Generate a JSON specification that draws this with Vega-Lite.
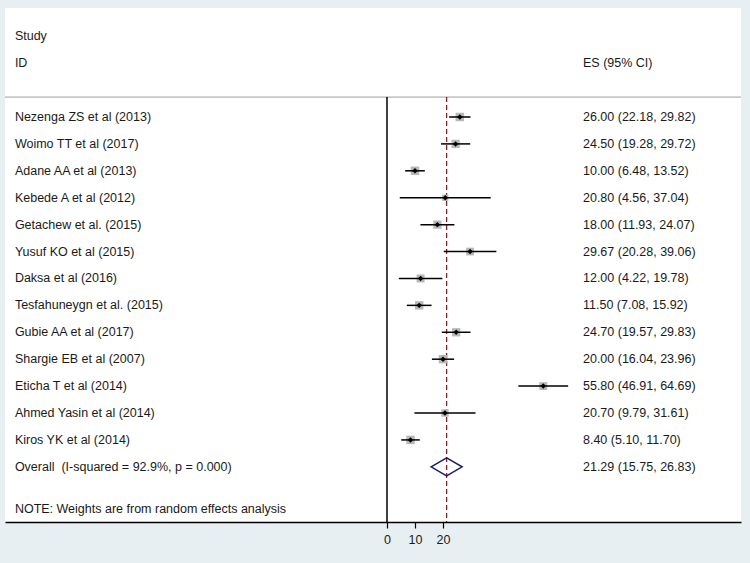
{
  "$schema": "https://vega.github.io/schema/vega-lite/v6.json",
  "autosize": {"type": "none"},
  "width": 736,
  "height": 514,
  "padding": {"left": 5, "top": 8, "right": 9, "bottom": 41},
  "background": "#e8eff2",
  "config": {
    "view": {"fill": "white", "stroke": null},
    "font": "Liberation Sans",
    "text": {"font": "Liberation Sans", "fontSize": 12.5, "color": "#1a1a1a"}
  },
  "datasets": {
    "studies": [
      {"study": "Nezenga ZS et al (2013)", "row": 0, "es": 26.00, "lcl": 22.18, "ucl": 29.82, "weight": 8.2, "es_ci": "26.00 (22.18, 29.82)"},
      {"study": "Woimo TT et al (2017)", "row": 1, "es": 24.50, "lcl": 19.28, "ucl": 29.72, "weight": 7.9, "es_ci": "24.50 (19.28, 29.72)"},
      {"study": "Adane AA et al (2013)", "row": 2, "es": 10.00, "lcl": 6.48, "ucl": 13.52, "weight": 8.2, "es_ci": "10.00 (6.48, 13.52)"},
      {"study": "Kebede A et al (2012)", "row": 3, "es": 20.80, "lcl": 4.56, "ucl": 37.04, "weight": 4.5, "es_ci": "20.80 (4.56, 37.04)"},
      {"study": "Getachew et al. (2015)", "row": 4, "es": 18.00, "lcl": 11.93, "ucl": 24.07, "weight": 7.7, "es_ci": "18.00 (11.93, 24.07)"},
      {"study": "Yusuf KO et al (2015)", "row": 5, "es": 29.67, "lcl": 20.28, "ucl": 39.06, "weight": 6.9, "es_ci": "29.67 (20.28, 39.06)"},
      {"study": "Daksa et al (2016)", "row": 6, "es": 12.00, "lcl": 4.22, "ucl": 19.78, "weight": 7.3, "es_ci": "12.00 (4.22, 19.78)"},
      {"study": "Tesfahuneygn et al. (2015)", "row": 7, "es": 11.50, "lcl": 7.08, "ucl": 15.92, "weight": 8.1, "es_ci": "11.50 (7.08, 15.92)"},
      {"study": "Gubie AA et al (2017)", "row": 8, "es": 24.70, "lcl": 19.57, "ucl": 29.83, "weight": 7.9, "es_ci": "24.70 (19.57, 29.83)"},
      {"study": "Shargie EB et al (2007)", "row": 9, "es": 20.00, "lcl": 16.04, "ucl": 23.96, "weight": 8.1, "es_ci": "20.00 (16.04, 23.96)"},
      {"study": "Eticha T et al (2014)", "row": 10, "es": 55.80, "lcl": 46.91, "ucl": 64.69, "weight": 7.0, "es_ci": "55.80 (46.91, 64.69)"},
      {"study": "Ahmed Yasin et al (2014)", "row": 11, "es": 20.70, "lcl": 9.79, "ucl": 31.61, "weight": 6.3, "es_ci": "20.70 (9.79, 31.61)"},
      {"study": "Kiros YK et al (2014)", "row": 12, "es": 8.40, "lcl": 5.10, "ucl": 11.70, "weight": 8.2, "es_ci": "8.40 (5.10, 11.70)"}
    ],
    "overall": [
      {"study": "Overall\u00a0 (I-squared = 92.9%, p = 0.000)", "row": 13, "es": 21.29, "lcl": 15.75, "ucl": 26.83, "es_ci": "21.29 (15.75, 26.83)"}
    ],
    "headers": [
      {"label": "Study", "row": -3, "col": "study"},
      {"label": "ID", "row": -2, "col": "study"},
      {"label": "ES (95% CI)", "row": -2, "col": "es"}
    ]
  },
  "encoding": {
    "y": {"type": "quantitative", "scale": {"domain": [-4.05, 15.05], "reverse": true, "nice": false, "zero": false}, "axis": null}
  },
  "layer": [
    {
      "data": {"name": "overall"},
      "mark": {"type": "rule", "color": "#c8c8c8", "strokeWidth": 1.6},
      "encoding": {"y": {"datum": -0.74, "type": "quantitative"}}
    },
    {
      "data": {"name": "overall"},
      "mark": {"type": "rule", "color": "#000000", "strokeWidth": 1.5},
      "encoding": {
        "x": {"datum": 0, "type": "quantitative",
          "scale": {"domain": [-136.43, 126.43], "nice": false, "zero": false},
          "axis": {"values": [0, 10, 20], "title": null, "grid": false, "domainColor": "#000000", "domainWidth": 1.6, "tickColor": "#000000", "tickWidth": 1.2, "tickSize": 6, "labelFont": "Liberation Sans", "labelFontSize": 12.5, "labelColor": "#1a1a1a", "labelPadding": 5}},
        "y": {"datum": -0.74, "type": "quantitative"},
        "y2": {"datum": 15.05}
      }
    },
    {
      "data": {"name": "overall"},
      "mark": {"type": "rule", "color": "#8b1c2c", "strokeWidth": 1.3, "strokeDash": [5, 3]},
      "encoding": {
        "x": {"field": "es", "type": "quantitative"},
        "y": {"datum": -0.74, "type": "quantitative"},
        "y2": {"datum": 15.05}
      }
    },
    {
      "data": {"name": "studies"},
      "mark": {"type": "point", "shape": "square", "filled": true, "color": "#b8b8b8", "opacity": 1},
      "encoding": {
        "x": {"field": "es", "type": "quantitative"},
        "y": {"field": "row", "type": "quantitative"},
        "size": {"field": "weight", "type": "quantitative", "scale": {"domain": [0, 8.2], "range": [0, 72], "zero": true}, "legend": null}
      }
    },
    {
      "data": {"name": "studies"},
      "mark": {"type": "rule", "color": "#000000", "strokeWidth": 1.5},
      "encoding": {
        "x": {"field": "lcl", "type": "quantitative"},
        "x2": {"field": "ucl"},
        "y": {"field": "row", "type": "quantitative"}
      }
    },
    {
      "data": {"name": "studies"},
      "mark": {"type": "point", "shape": "diamond", "filled": true, "color": "#000000", "size": 30, "opacity": 1},
      "encoding": {
        "x": {"field": "es", "type": "quantitative"},
        "y": {"field": "row", "type": "quantitative"}
      }
    },
    {
      "data": {"name": "overall"},
      "mark": {"type": "point", "shape": "M-1,0L0,-0.58L1,0L0,0.58Z", "filled": false, "stroke": "#1c1c6e", "strokeWidth": 1.5, "size": 961, "opacity": 1},
      "encoding": {
        "x": {"field": "es", "type": "quantitative"},
        "y": {"field": "row", "type": "quantitative"}
      }
    },
    {
      "data": {"name": "studies"},
      "mark": {"type": "text", "align": "left", "baseline": "middle"},
      "encoding": {
        "x": {"datum": -132.9, "type": "quantitative"},
        "y": {"field": "row", "type": "quantitative"},
        "text": {"field": "study"}
      }
    },
    {
      "data": {"name": "overall"},
      "mark": {"type": "text", "align": "left", "baseline": "middle"},
      "encoding": {
        "x": {"datum": -132.9, "type": "quantitative"},
        "y": {"field": "row", "type": "quantitative"},
        "text": {"field": "study"}
      }
    },
    {
      "data": {"name": "studies"},
      "mark": {"type": "text", "align": "left", "baseline": "middle"},
      "encoding": {
        "x": {"datum": 70, "type": "quantitative"},
        "y": {"field": "row", "type": "quantitative"},
        "text": {"field": "es_ci"}
      }
    },
    {
      "data": {"name": "overall"},
      "mark": {"type": "text", "align": "left", "baseline": "middle"},
      "encoding": {
        "x": {"datum": 70, "type": "quantitative"},
        "y": {"field": "row", "type": "quantitative"},
        "text": {"field": "es_ci"}
      }
    },
    {
      "data": {"name": "headers"},
      "transform": [{"filter": "datum.col === 'study'"}],
      "mark": {"type": "text", "align": "left", "baseline": "middle"},
      "encoding": {
        "x": {"datum": -132.9, "type": "quantitative"},
        "y": {"field": "row", "type": "quantitative"},
        "text": {"field": "label"}
      }
    },
    {
      "data": {"name": "headers"},
      "transform": [{"filter": "datum.col === 'es'"}],
      "mark": {"type": "text", "align": "left", "baseline": "middle"},
      "encoding": {
        "x": {"datum": 70, "type": "quantitative"},
        "y": {"field": "row", "type": "quantitative"},
        "text": {"field": "label"}
      }
    },
    {
      "data": {"values": [{"note": "NOTE: Weights are from random effects analysis"}]},
      "mark": {"type": "text", "align": "left", "baseline": "middle"},
      "encoding": {
        "x": {"datum": -132.9, "type": "quantitative"},
        "y": {"datum": 14.56, "type": "quantitative"},
        "text": {"field": "note"}
      }
    }
  ]
}
